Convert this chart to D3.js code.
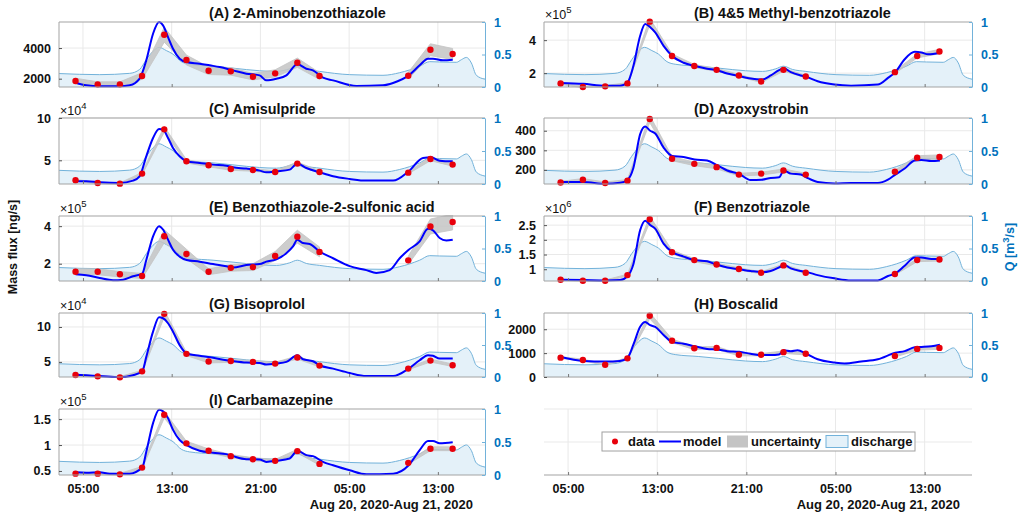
<!DOCTYPE html>
<html><head><meta charset="utf-8">
<script src="https://cdn.jsdelivr.net/npm/d3@7"></script>
<style>
body{margin:0;background:#fff}
text{font-family:"Liberation Sans",Arial,Helvetica,sans-serif}
</style>
</head><body>
<svg id="c" width="1018" height="517"></svg>
<script>
// ---------------- DATA ----------------
// time in hours since 2020-08-20 00:00
const sampleHours = [4.33, 6.33, 8.33, 10.33, 12.33, 14.33, 16.33, 18.33, 20.33, 22.33, 24.33, 26.33, 34.33, 36.33, 38.33];
const xDomainHours = [2.84, 41.25];
const tickHours = [5, 13, 21, 29, 37];
const dateLabel = "Aug 20, 2020-Aug 21, 2020";

const qHours  = [2.84,6.51,9.21,10.11,10.71,11.32,11.86,12.52,13.12,13.87,14.62,16.73,18.53,20.93,22.44,23.64,24.33,25.14,26.34,29.05,32.05,33.56,35.36,36.26,37.16,38.67,39.12,39.57,40.02,40.47,41.25];
const qValues = [0.207,0.19,0.21,0.27,0.42,0.55,0.61,0.56,0.505,0.39,0.35,0.32,0.29,0.25,0.24,0.28,0.32,0.27,0.24,0.19,0.18,0.22,0.32,0.39,0.385,0.38,0.42,0.455,0.37,0.18,0.12];
const qTicks = [0, 0.5, 1];

const titles = ["(A) 2-Aminobenzothiazole","(B) 4&5 Methyl-benzotriazole","(C) Amisulpride","(D) Azoxystrobin",
  "(E) Benzothiazole-2-sulfonic acid","(F) Benzotriazole","(G) Bisoprolol","(H) Boscalid","(I) Carbamazepine"];
const exponents = [0, 5, 4, 0, 5, 6, 4, 0, 5];
const yDomains = [[1457,5700],[1.16,5.1],[2.2,10],[128,465],[1.08,4.54],[0.6,2.81],[2.84,12],[0,2680],[0.422,1.695]];
const yTicks = [[2000,4000],[2,4],[5,10],[200,300,400],[2,4],[1,1.5,2,2.5],[5,10],[0,1000,2000],[0.5,1,1.5]];
const uncertaintyFrac = [0.10,0.04,0.04,0.04,0.10,0.04,0.04,0.05,0.04];

const dataA = [1848,1630,1630,2174,4870,3217,2522,2478,2130,2348,3043,2174,2196,3891,3609];
const dataB = [1.37,1.16,1.20,1.37,5.12,3.04,2.43,2.20,1.86,1.49,2.20,1.80,2.06,3.04,3.31];
const dataC = [2.64,2.32,2.24,3.43,8.66,4.88,4.41,3.98,3.86,3.62,4.61,3.62,3.54,5.16,4.49];
const dataD = [136,150,133,145,460,257,231,214,176,181,197,176,191,262,266];
const dataE = [1.57,1.57,1.44,1.35,3.46,2.52,1.57,1.78,1.82,2.41,3.44,2.63,2.18,3.98,4.22];
const dataF = [0.64,0.61,0.61,0.80,2.70,1.58,1.31,1.16,1.01,0.88,1.13,0.88,0.84,1.31,1.33];
const dataG = [3.12,2.93,2.79,3.65,11.88,6.15,5.05,5.14,5.00,4.76,5.63,4.47,4.04,5.19,4.52];
const dataH = [810,714,510,782,2564,1517,1204,1218,932,932,1041,973,878,1177,1218];
const dataI = [0.448,0.448,0.435,0.565,1.584,1.032,0.890,0.786,0.727,0.695,0.883,0.636,0.656,0.929,0.929];

const modelA = [[4.34,1739],[5.30,1565],[6.51,1500],[8.31,1500],[9.21,1565],[10.11,2000],[10.71,3196],[11.32,4935],[11.86,5696],[12.22,5478],[12.67,4717],[13.12,3957],[13.72,3304],[14.32,3087],[15.52,2978],[16.42,2870],[17.33,2761],[18.53,2543],[19.73,2326],[20.93,2217],[21.53,1891],[22.44,2000],[23.34,2217],[24.33,2935],[25.14,2652],[25.74,2543],[26.64,2065],[27.55,1891],[29.65,1522],[32.05,1565],[32.96,1717],[34.37,2217],[35.36,2870],[36.11,3304],[36.56,3304],[37.46,3196],[38.34,3239]];
const modelB = [[4.34,1.41],[6.36,1.35],[8.37,1.24],[9.66,1.24],[10.35,1.45],[10.86,2.43],[11.47,4.27],[11.92,4.98],[12.37,4.78],[12.82,4.47],[13.57,3.65],[14.35,3.04],[15.37,2.63],[16.36,2.43],[17.48,2.27],[18.38,2.18],[19.28,1.98],[20.36,1.82],[21.38,1.67],[22.38,1.61],[23.19,1.86],[23.94,2.18],[24.36,2.29],[24.99,2.06],[25.89,1.86],[26.37,1.78],[27.40,1.51],[28.90,1.31],[30.40,1.24],[32.80,1.31],[33.71,1.71],[34.37,2.06],[35.21,2.84],[36.11,3.29],[36.71,3.25],[37.31,3.14],[38.37,3.24]];
const modelC = [[4.34,2.52],[5.30,2.52],[6.51,2.40],[8.31,2.32],[9.51,2.60],[10.11,3.11],[10.71,5.47],[11.32,7.64],[11.86,8.70],[12.22,8.62],[12.67,7.64],[13.12,6.46],[13.72,5.47],[14.35,4.88],[15.52,4.69],[16.73,4.49],[17.93,4.37],[18.53,4.17],[19.73,4.02],[20.93,3.78],[21.53,3.58],[22.44,3.70],[23.64,3.90],[24.33,4.61],[25.14,4.09],[26.34,3.58],[27.55,3.11],[29.05,2.80],[30.55,2.60],[32.96,2.60],[34.37,3.70],[35.66,5.28],[36.41,5.35],[37.16,4.96],[38.34,4.88]];
const modelD = [[4.34,138],[6.36,138],[8.37,129],[9.66,134],[10.35,150],[10.86,210],[11.47,383],[11.92,422],[12.37,400],[12.82,386],[13.57,314],[14.35,271],[15.37,266],[16.36,253],[17.48,248],[18.38,224],[19.28,197],[20.36,179],[21.38,148],[22.38,150],[23.19,159],[23.94,162],[24.36,197],[24.99,181],[25.89,176],[26.37,162],[27.40,138],[28.90,131],[30.40,133],[32.80,133],[33.71,150],[34.37,176],[35.21,207],[36.11,248],[36.71,250],[37.61,245],[38.37,248]];
const modelE = [[4.34,1.44],[5.30,1.39],[6.51,1.24],[7.71,1.12],[8.61,1.15],[9.51,1.33],[10.35,1.48],[10.71,2.20],[11.32,3.46],[11.86,4.00],[12.22,3.82],[12.67,3.28],[13.12,2.74],[13.72,2.38],[14.35,2.20],[15.52,2.11],[16.73,1.98],[17.93,1.87],[18.53,1.80],[19.73,1.93],[20.93,1.98],[21.53,2.11],[22.44,2.23],[23.34,2.56],[23.94,2.92],[24.33,3.28],[24.84,3.10],[25.44,3.05],[26.34,2.65],[27.55,2.29],[29.05,1.87],[30.55,1.66],[31.45,1.51],[32.66,1.66],[33.56,2.29],[34.37,2.74],[35.36,3.19],[36.11,3.86],[36.56,3.78],[37.16,3.37],[37.76,3.24],[38.34,3.28]];
const modelF = [[4.34,0.64],[6.36,0.63],[8.37,0.62],[9.66,0.63],[10.35,0.77],[10.86,1.17],[11.47,2.33],[11.92,2.65],[12.37,2.50],[12.82,2.38],[13.57,1.87],[14.35,1.58],[15.37,1.43],[16.36,1.31],[17.48,1.27],[18.38,1.15],[19.28,1.06],[20.36,1.00],[21.38,0.94],[22.38,0.90],[23.19,0.94],[23.94,1.06],[24.36,1.15],[24.99,1.03],[25.89,0.94],[26.37,0.91],[27.40,0.80],[28.90,0.69],[30.40,0.62],[32.80,0.62],[33.71,0.77],[34.37,0.86],[35.21,1.12],[36.11,1.40],[36.71,1.40],[37.61,1.35],[38.37,1.35]];
const modelG = [[4.34,3.17],[5.30,3.08],[6.51,2.98],[8.31,2.79],[9.51,3.08],[10.35,3.65],[10.71,5.72],[11.32,9.33],[11.86,11.39],[12.22,11.25],[12.67,10.53],[13.12,9.33],[13.72,7.40],[14.35,6.20],[15.52,5.87],[16.73,5.58],[17.93,5.24],[18.53,5.10],[19.73,4.90],[20.93,4.86],[21.53,4.62],[22.44,4.76],[23.34,5.00],[24.33,5.96],[24.84,5.38],[25.74,5.10],[26.34,4.52],[27.55,4.04],[29.05,3.41],[30.55,2.98],[32.96,2.98],[34.37,4.04],[35.36,5.24],[36.11,5.96],[36.56,5.87],[37.16,5.48],[38.34,5.48]];
const modelH = [[4.34,837],[6.36,674],[8.37,646],[9.66,674],[10.35,810],[10.86,1354],[11.47,2102],[11.92,2306],[12.37,2170],[12.82,2102],[13.57,1762],[14.35,1462],[15.37,1394],[16.36,1286],[17.48,1177],[18.38,1150],[19.28,1082],[20.36,1054],[21.38,973],[22.38,918],[23.19,918],[23.94,946],[24.36,1122],[24.99,1082],[25.59,1122],[26.37,973],[27.40,742],[28.90,606],[29.80,565],[31.30,646],[32.80,742],[34.37,1014],[35.21,1082],[36.11,1245],[36.71,1258],[37.61,1286],[38.37,1354]];
const modelI = [[4.34,0.474],[5.30,0.467],[6.51,0.474],[7.41,0.448],[9.21,0.448],[10.35,0.565],[10.71,0.870],[11.32,1.422],[11.86,1.682],[12.22,1.649],[12.67,1.519],[13.12,1.292],[13.72,1.097],[14.35,1.000],[15.52,0.890],[16.73,0.851],[17.93,0.825],[18.53,0.786],[19.73,0.727],[20.93,0.721],[21.53,0.675],[22.44,0.695],[23.64,0.740],[24.33,0.890],[25.14,0.805],[25.74,0.786],[26.64,0.675],[27.55,0.610],[29.05,0.513],[30.55,0.435],[32.96,0.448],[34.37,0.610],[35.36,0.903],[36.11,1.078],[36.56,1.078],[37.16,1.032],[38.34,1.052]];

const legendLabels = ["data","model","uncertainty","discharge"];
const yLabelLeft = "Mass flux [ng/s]";

// ---------------- LAYOUT ----------------
const datas = [dataA,dataB,dataC,dataD,dataE,dataF,dataG,dataH,dataI];
const models = [modelA,modelB,modelC,modelD,modelE,modelF,modelG,modelH,modelI];
const colX = [[59,485],[544,972]];
const rowY = [[22,87],[118,184],[216,281],[313,377],[409,475]];
const C = {grid:"#e9e9e9", axis:"#a3a3a3", qLine:"#72b2da", qFill:"#e4f1f9", qAxis:"#72b2da", qText:"#0072bd",
  band:"#c4c4c4", model:"#0000ff", dot:"#e8000b"};

const svg = d3.select("#c");
const base = new Date(2020,7,20,0,0,0);
const hr = h => new Date(base.getTime() + h*3600000);
const FONT = '"Liberation Sans",Arial,sans-serif';

function frame(L,R,T,B, opts){
  const x = d3.scaleTime().domain(xDomainHours.map(hr)).range([L,R]);
  const g = svg.append("g");
  // vertical grid
  g.selectAll(null).data(tickHours).join("line")
    .attr("x1",d=>x(hr(d))).attr("x2",d=>x(hr(d))).attr("y1",T).attr("y2",B)
    .attr("stroke",C.grid).attr("stroke-width",1);
  return {x,g};
}

function drawPanel(i){
  const col = i%2, row = Math.floor(i/2);
  const [L,R] = colX[col], [T,B] = rowY[row];
  const {x,g} = frame(L,R,T,B);
  const y = d3.scaleLinear().domain(yDomains[i]).range([B,T]);
  const yq = d3.scaleLinear().domain([0,1]).range([B,T]);
  // horizontal grid
  g.selectAll(null).data(yTicks[i]).join("line")
    .attr("x1",L).attr("x2",R).attr("y1",d=>y(d)).attr("y2",d=>y(d))
    .attr("stroke",C.grid);
  const cid = "clip"+i;
  svg.append("clipPath").attr("id",cid).append("rect").attr("x",L).attr("y",T-1).attr("width",R-L).attr("height",B-T+2);
  const pg = g.append("g").attr("clip-path",`url(#${cid})`);
  // discharge
  const q = qHours.map((h,k)=>[h,qValues[k]]);
  pg.append("path").datum(q)
    .attr("d",d3.area().x(d=>x(hr(d[0]))).y0(B).y1(d=>yq(d[1])).curve(d3.curveMonotoneX))
    .attr("fill",C.qFill);
  pg.append("path").datum(q)
    .attr("d",d3.line().x(d=>x(hr(d[0]))).y(d=>yq(d[1])).curve(d3.curveMonotoneX))
    .attr("fill","none").attr("stroke",C.qLine).attr("stroke-width",1);
  // uncertainty band (split where sampling gap)
  const data = datas[i];
  const pts = sampleHours.map((h,k)=>({h,v:data[k]}));
  const segs = []; let cur = [];
  pts.forEach((p,k)=>{ if(k>0 && p.h-pts[k-1].h>3){segs.push(cur);cur=[];} cur.push(p); });
  segs.push(cur);
  const u = uncertaintyFrac[i];
  const band = d3.area().x(d=>x(hr(d.h))).y0(d=>y(d.v*(1-u))).y1(d=>y(d.v*(1+u)));
  segs.forEach(s=>{
    pg.append("path").datum(s).attr("d",band)
      .attr("fill",C.band).attr("fill-opacity",0.85).attr("stroke",C.band).attr("stroke-width",0.8);
  });
  // model
  pg.append("path").datum(models[i])
    .attr("d",d3.line().x(d=>x(hr(d[0]))).y(d=>y(d[1])).curve(d3.curveMonotoneX))
    .attr("fill","none").attr("stroke",C.model).attr("stroke-width",2);
  // dots
  g.selectAll(null).data(pts).join("circle")
    .attr("cx",d=>x(hr(d.h))).attr("cy",d=>y(d.v)).attr("r",3.2).attr("fill",C.dot);
  // box
  g.append("line").attr("x1",L).attr("x2",R).attr("y1",T).attr("y2",T).attr("stroke",C.axis);
  g.append("line").attr("x1",L).attr("x2",R).attr("y1",B).attr("y2",B).attr("stroke",C.axis);
  g.append("line").attr("x1",L).attr("x2",L).attr("y1",T).attr("y2",B).attr("stroke",C.axis);
  // left axis
  const la = g.append("g").attr("transform",`translate(${L},0)`)
    .call(d3.axisLeft(y).tickValues(yTicks[i]).tickSizeInner(-3).tickSizeOuter(0).tickPadding(8).tickFormat(d3.format("~g")));
  la.select(".domain").remove();
  la.selectAll("line").attr("stroke","#555");
  la.selectAll("text").attr("font-size",12.5).attr("font-weight","bold").attr("fill","#111").attr("font-family",FONT);
  // right axis
  const ra = g.append("g").attr("transform",`translate(${R},0)`)
    .call(d3.axisRight(yq).tickValues(qTicks).tickSizeInner(-3).tickSizeOuter(0).tickPadding(9).tickFormat(d3.format("~g")));
  ra.select(".domain").attr("stroke",C.qAxis);
  ra.selectAll("line").attr("stroke",C.qAxis);
  ra.selectAll("text").attr("font-size",12.5).attr("font-weight","bold").attr("fill",C.qText).attr("font-family",FONT);
  // bottom ticks
  const ba = g.append("g").attr("transform",`translate(0,${B})`)
    .call(d3.axisBottom(x).tickValues(tickHours.map(hr)).tickSizeInner(-3).tickSizeOuter(0)
      .tickFormat(row===4 ? d3.timeFormat("%H:%M") : ()=>"" ).tickPadding(9));
  ba.select(".domain").remove();
  ba.selectAll("line").attr("stroke","#777");
  ba.selectAll("text").attr("font-size",12.5).attr("font-weight","bold").attr("fill","#111").attr("font-family",FONT);
  // title
  g.append("text").attr("x",L+150).attr("y",T-4.5).text(titles[i])
    .attr("font-size",14.4).attr("font-weight","bold").attr("fill","#111");
  // exponent
  if(exponents[i]){
    const t = g.append("text").attr("x",L+1).attr("y",T-3.5).attr("font-size",12.5).attr("fill","#111");
    t.append("tspan").text("\u00d710");
    t.append("tspan").attr("dy",-6).attr("font-size",9.5).text(exponents[i]);
  }
  if(row===4){
    g.append("text").attr("x",R-12).attr("y",509).attr("text-anchor","end").text(dateLabel)
      .attr("font-size",13).attr("font-weight","bold").attr("fill","#111");
  }
}

for(let i=0;i<9;i++) drawPanel(i);

// empty bottom-right axes with legend
(function(){
  const [L,R] = colX[1], [T,B] = rowY[4];
  const {x,g} = frame(L,R,T,B);
  const yq = d3.scaleLinear().domain([0,1]).range([B,T]);
  g.selectAll(null).data([0.5,1]).join("line")
    .attr("x1",L).attr("x2",R).attr("y1",d=>yq(d)).attr("y2",d=>yq(d)).attr("stroke",C.grid);
  g.append("line").attr("x1",L).attr("x2",R).attr("y1",B).attr("y2",B).attr("stroke",C.axis);
  const ba = g.append("g").attr("transform",`translate(0,${B})`)
    .call(d3.axisBottom(x).tickValues(tickHours.map(hr)).tickSizeInner(-3).tickSizeOuter(0)
      .tickFormat(d3.timeFormat("%H:%M")).tickPadding(9));
  ba.select(".domain").remove();
  ba.selectAll("line").attr("stroke","#777");
  ba.selectAll("text").attr("font-size",12.5).attr("font-weight","bold").attr("fill","#111").attr("font-family",FONT);
  g.append("text").attr("x",R-12).attr("y",509).attr("text-anchor","end").text(dateLabel)
    .attr("font-size",13).attr("font-weight","bold").attr("fill","#111");

  // legend
  const lg = svg.append("g").attr("font-size",13).attr("font-weight","bold").attr("fill","#111");
  lg.append("rect").attr("x",602).attr("y",432).attr("width",313).attr("height",19)
    .attr("fill","#fff").attr("stroke","#a0a0a0");
  const cy = 441.5, by = 446;
  lg.append("circle").attr("cx",615).attr("cy",cy).attr("r",3).attr("fill",C.dot);
  lg.append("text").attr("x",628).attr("y",by).text(legendLabels[0]);
  lg.append("line").attr("x1",659).attr("x2",681).attr("y1",cy).attr("y2",cy).attr("stroke",C.model).attr("stroke-width",2);
  lg.append("text").attr("x",683).attr("y",by).text(legendLabels[1]);
  lg.append("rect").attr("x",727).attr("y",435.5).attr("width",21).attr("height",12).attr("fill",C.band);
  lg.append("text").attr("x",751).attr("y",by).text(legendLabels[2]);
  lg.append("rect").attr("x",826).attr("y",435.5).attr("width",22).attr("height",12).attr("fill",C.qFill).attr("stroke",C.qLine);
  lg.append("text").attr("x",851).attr("y",by).text(legendLabels[3]);
})();

// axis titles
svg.append("text").attr("transform","translate(17,247) rotate(-90)").attr("text-anchor","middle")
  .attr("font-size",12.5).attr("font-weight","bold").attr("fill","#111").text(yLabelLeft);
const qt = svg.append("text").attr("transform","translate(1014,247) rotate(-90)").attr("text-anchor","middle")
  .attr("font-size",12.5).attr("font-weight","bold").attr("fill",C.qText);
qt.append("tspan").text("Q [m");
qt.append("tspan").attr("dy",-5).attr("font-size",9.5).text("3");
qt.append("tspan").attr("dy",5).text("/s]");
</script>
</body></html>
